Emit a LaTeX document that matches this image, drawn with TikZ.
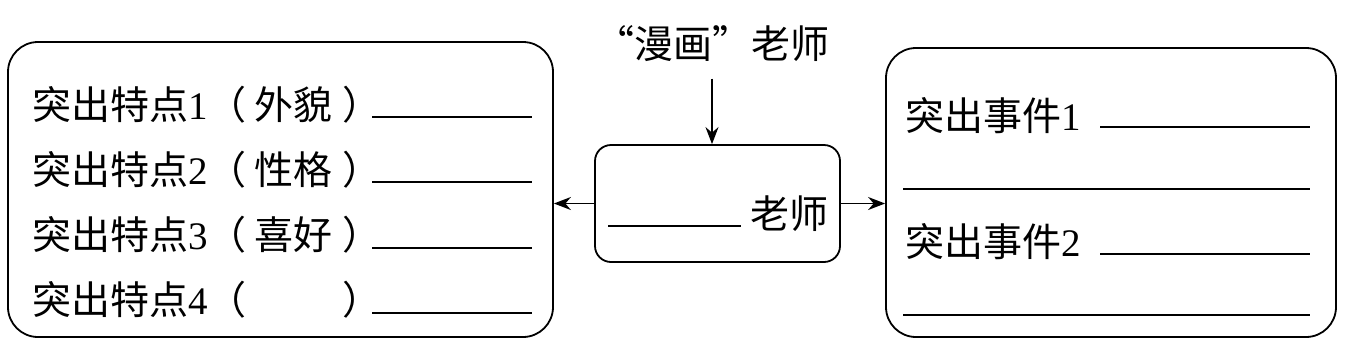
\documentclass[tikz,border=0pt]{standalone}
\usepackage{fontspec}
\setmainfont{Liberation Serif}
\newfontfamily\zhfont{Noto Sans CJK SC}
\newcommand{\zh}[1]{{\zhfont #1}}
\usetikzlibrary{arrows.meta, positioning}

\begin{document}
\begin{tikzpicture}[
    x=0.5pt, y=-0.5pt,
    panel/.style = {rectangle, draw, line width=0.9pt, rounded corners=15pt,
                    inner sep=0pt},
    entry/.style = {anchor=base west, inner sep=0pt,
                    font=\fontsize{19.5}{23}\selectfont},
    blank/.style = {line width=0.9pt},
    arr/.style   = {-{Stealth[length=8.5pt, width=6.5pt]}, line width=0.9pt},
  ]
  \useasboundingbox (0,0) rectangle (1355,355);

  %% Panels
  \node[panel, minimum width=272.5pt, minimum height=147.5pt] (traits) at (280.5,189.5) {};
  \node[panel, rounded corners=8pt, minimum width=122.5pt, minimum height=58.5pt] (teacher) at (717.5,203.5) {};
  \node[panel, minimum width=225pt, minimum height=144.5pt] (events) at (1111,192.5) {};

  %% Title above the middle panel
  \node[entry, anchor=center, inner sep=4pt] (title) at (712,44) {\zh{“漫画”老师}};

  %% Left panel: features
  \foreach \i/\t in {1/外貌, 2/性格, 3/喜好, 4/\phantom{外貌}} {
    \node[entry] (trait\i) at (32,{119+(\i-1)*65.3})
      {\zh{突出特点}\i\zh{（}\hspace{4pt}\zh{\t}\hspace{5pt}\zh{）}};
    \draw[blank] (372,{117+(\i-1)*65.3}) -- (532,{117+(\i-1)*65.3});
  }

  %% Middle panel
  \draw[blank] (608,226) -- (741,226);
  \node[entry] (name) at (750,228) {\zh{老师}};

  %% Right panel: events
  \node[entry] (event1) at (905,130) {\zh{突出事件}1};
  \node[entry] (event2) at (905,256) {\zh{突出事件}2};
  \draw[blank] (1100,127) -- (1310,127);
  \draw[blank] (903,189) -- (1310,189);
  \draw[blank] (1100,254) -- (1310,254);
  \draw[blank] (903,315) -- (1310,315);

  %% Arrows
  \draw[arr, shorten <=4pt] (title) -- (title |- teacher.north);
  \draw[arr] (teacher.west) -- (teacher.west -| traits.east);
  \draw[arr] (teacher.east) -- (teacher.east -| events.west);

\end{tikzpicture}
\end{document}
